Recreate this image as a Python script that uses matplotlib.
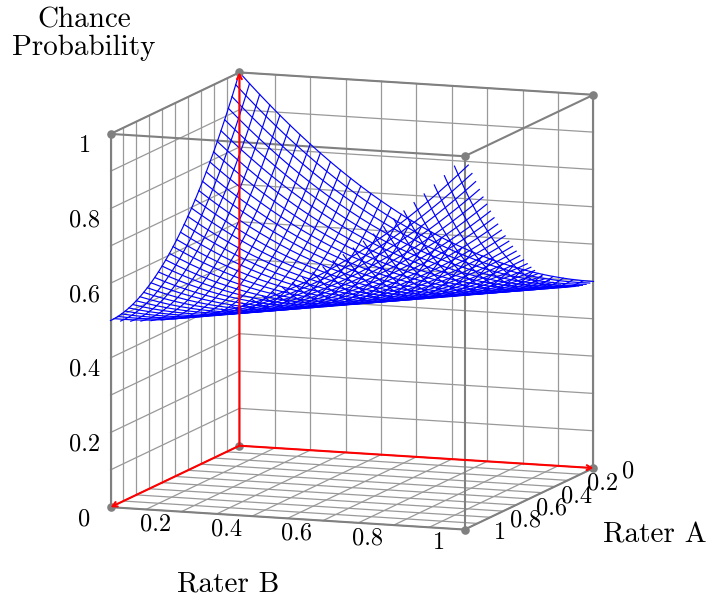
import matplotlib
matplotlib.use("Agg")
import matplotlib.pyplot as plt
from mpl_toolkits.mplot3d import proj3d

plt.rcParams['font.family'] = ['cmr10', 'DejaVu Sans']
plt.rcParams['axes.unicode_minus'] = False
plt.rcParams['axes.formatter.use_mathtext'] = True

# positions of the 36 mesh samples along each rater axis
rater_steps = [0, 1/35, 2/35, 3/35, 4/35, 5/35, 6/35, 7/35, 8/35, 9/35, 10/35, 11/35,
               12/35, 13/35, 14/35, 15/35, 16/35, 17/35, 18/35, 19/35, 20/35, 21/35,
               22/35, 23/35, 24/35, 25/35, 26/35, 27/35, 28/35, 29/35, 30/35, 31/35,
               32/35, 33/35, 34/35, 1]

# height of the surface, it only changes with (step of A + step of B)
chance_values = [1.0, .9718, .9445, .9180, .8922, .8673, .8433, .82, .7976, .7759, .7551, .7351,
                 .7159, .6976, .68, .6633, .6473, .6322, .6180, .6045, .5918, .58, .5690, .5588,
                 .5494, .5408, .5331, .5261, .52, .5147, .5102, .5065, .5037, .5016, .5004, .5,
                 .5004, .5016, .5037, .5065, .5102, .5147, .52, .5261, .5331, .5408, .5494, .5588,
                 .5690, .58, .5918, .6045, .6180, .6322, .6473, .6633, .68, .6976, .7159, .7351,
                 .7551, .7759, .7976, .82, .8433, .8673, .8922, .9180, .9445, .9718, 1.0]

grid_values = [0, 0.1, 0.2, 0.3, 0.4, 0.5, 0.6, 0.7, 0.8, 0.9, 1]
tick_values = [0, 0.2, 0.4, 0.6, 0.8, 1]
tick_labels = ['0', '0.2', '0.4', '0.6', '0.8', '1']

GREY = '#808080'
GRID = '#999999'
TICK_SIZE = 17.5
LABEL_SIZE = 21

fig = plt.figure(figsize=(7.07, 6.01), dpi=100)
ax = fig.add_axes([43.9/707, -8.1/601, 600/707, 600/601], projection='3d', computed_zorder=False)
ax.set_proj_type('ortho')
ax.view_init(elev=10, azim=20)
ax.set_xlim(0, 1, view_margin=0)
ax.set_ylim(0, 1, view_margin=0)
ax.set_zlim(0, 1, view_margin=0)
ax.set_box_aspect((1, 1, 1.006), zoom=1.058)
ax.set_axis_off()


def to_screen(a, b, z):
    x2, y2, _ = proj3d.proj_transform(a, b, z, ax.get_proj())
    return x2, y2


def tick_text(label, a, b, z, dx, dy):
    ax.annotate(label, xy=to_screen(a, b, z), xytext=(dx, -dy), textcoords='offset pixels',
                ha='center', va='center', fontsize=TICK_SIZE, annotation_clip=False, zorder=10)


def arrow(a, b, z):
    ax.annotate('', xy=to_screen(a, b, z), xytext=to_screen(0, 0, 0), annotation_clip=False, zorder=7,
                arrowprops=dict(arrowstyle='->,head_length=0.3,head_width=0.16', color='red', lw=1.5,
                                shrinkA=0, shrinkB=0, mutation_scale=11))


# grid on the floor and the two back walls
for v in grid_values:
    ax.plot([v, v], [0, 1], [0, 0], color=GRID, lw=0.9, zorder=1)
    ax.plot([0, 1], [v, v], [0, 0], color=GRID, lw=0.9, zorder=1)
    ax.plot([0, 0], [v, v], [0, 1], color=GRID, lw=0.9, zorder=1)
    ax.plot([0, 0], [0, 1], [v, v], color=GRID, lw=0.9, zorder=1)
    ax.plot([v, v], [0, 0], [0, 1], color=GRID, lw=0.9, zorder=1)
    ax.plot([0, 1], [0, 0], [v, v], color=GRID, lw=0.9, zorder=1)

# box edges
for z in [0, 1]:
    ax.plot([1, 1], [0, 1], [z, z], color=GREY, lw=1.5, zorder=2)
    ax.plot([0, 1], [1, 1], [z, z], color=GREY, lw=1.5, zorder=2)
ax.plot([0, 0], [0, 1], [1, 1], color=GREY, lw=1.5, zorder=2)
ax.plot([0, 1], [0, 0], [1, 1], color=GREY, lw=1.5, zorder=2)
ax.plot([1, 1], [0, 0], [0, 1], color=GREY, lw=1.5, zorder=2)
ax.plot([1, 1], [1, 1], [0, 1], color=GREY, lw=1.5, zorder=2)
ax.plot([0, 0], [1, 1], [0, 1], color=GREY, lw=1.5, zorder=2)

# mesh, the last line in each direction is not drawn in the original
n = len(rater_steps)
for i in range(n - 1):
    zs = [chance_values[i + j] for j in range(n)]
    ax.plot([rater_steps[i]] * n, rater_steps, zs, color='#0000ff', lw=0.85, zorder=4)
    ax.plot(rater_steps, [rater_steps[i]] * n, zs, color='#0000ff', lw=0.85, zorder=4)

# red axes
arrow(1, 0, 0)
arrow(0, 1, 0)
arrow(0, 0, 1)

# corner dots
for a in [0, 1]:
    for b in [0, 1]:
        for z in [0, 1]:
            ax.plot([a], [b], [z], marker='o', ms=6.2, color=GREY, mew=0, zorder=6)

for t, label in zip(tick_values, tick_labels):
    tick_text(label, 1, 0, t, -26, 12)
    if t > 0:
        tick_text(label, 1, t, 0, -26, 13)
    tick_text(label, t, 1, 0, 35, 3.5)

fig.text(228/707, 1 - 584/601, 'Rater B', ha='center', va='center', fontsize=LABEL_SIZE)
fig.text(655/707, 1 - 535/601, 'Rater A', ha='center', va='center', fontsize=LABEL_SIZE)
fig.text(84/707, 1 - 20/601, 'Chance', ha='center', va='center', fontsize=LABEL_SIZE)
fig.text(84/707, 1 - 48/601, 'Probability', ha='center', va='center', fontsize=LABEL_SIZE)

fig.savefig('out.png', dpi=100)
